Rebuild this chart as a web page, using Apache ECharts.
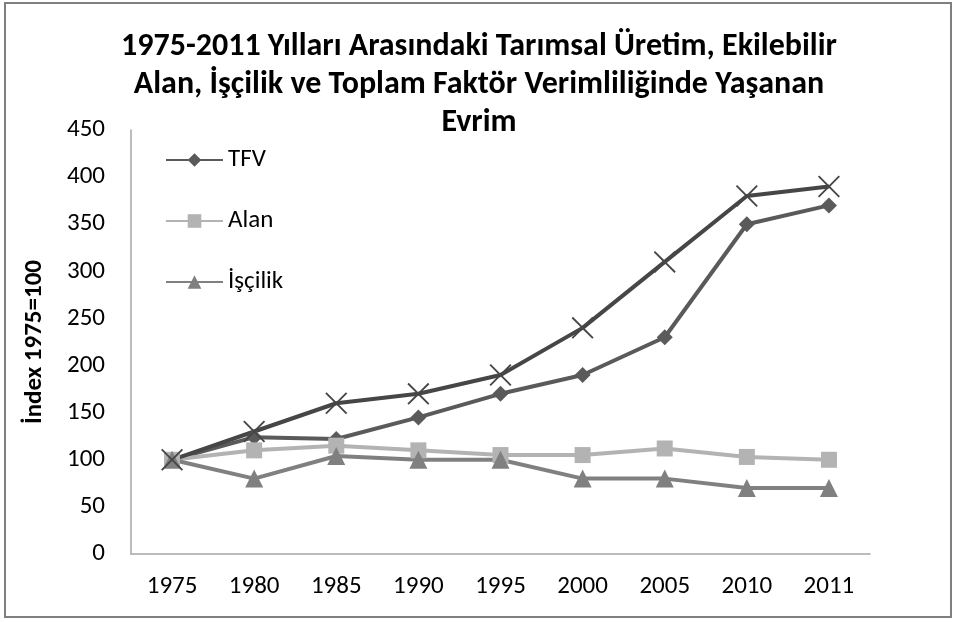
<!DOCTYPE html>
<html>
<head>
<meta charset="utf-8">
<script src="https://cdn.jsdelivr.net/npm/echarts@6/dist/echarts.min.js"></script>
<style>
  html, body { margin: 0; padding: 0; background: #fff; }
  #chart { width: 958px; height: 622px; }
</style>
</head>
<body>
<div id="chart"></div>
<script>
var FONT = 'Carlito, Calibri, "Liberation Sans Narrow", "Open Sans", sans-serif';

var years = ['1975', '1980', '1985', '1990', '1995', '2000', '2005', '2010', '2011'];
// Tarımsal üretim (X işaretli, lejantta yok)
var uretim = [100, 130, 160, 170, 190, 240, 310, 380, 390];
var tfv = [100, 124, 122, 145, 170, 190, 230, 350, 370];
var alan = [100, 110, 115, 110, 105, 105, 112, 103, 100];
var iscilik = [100, 80, 104, 100, 100, 80, 80, 70, 70];

var xSymbol = 'path://M0,6 L6,0 L50,44 L94,0 L100,6 L56,50 L100,94 L94,100 L50,56 L6,100 L0,94 L44,50 Z';

var chart = echarts.init(document.getElementById('chart'));

var option = {
  backgroundColor: '#fff',
  animation: false,
  textStyle: { fontFamily: FONT },
  title: {
    text: '1975-2011 Yılları Arasındaki Tarımsal Üretim, Ekilebilir\nAlan, İşçilik ve Toplam Faktör Verimliliğinde Yaşanan\nEvrim',
    left: 'center',
    top: 23,
    padding: [5, 0, 5, 12],
    textStyle: { fontFamily: FONT, fontSize: 32, fontWeight: 'bold', color: '#000', lineHeight: 38 }
  },
  legend: {
    data: ['TFV', 'Alan', 'İşçilik'],
    orient: 'vertical',
    left: 160,
    top: 140,
    itemWidth: 57,
    itemHeight: 17,
    itemGap: 31,
    textStyle: { fontFamily: FONT, fontSize: 25, color: '#000', lineHeight: 30 }
  },
  grid: { left: 131, right: 88, top: 130, bottom: 68 },
  xAxis: {
    type: 'category',
    data: years,
    boundaryGap: true,
    axisLine: { lineStyle: { color: '#a6a6a6', width: 1.5 } },
    axisTick: { show: false },
    axisLabel: { fontFamily: FONT, fontSize: 25, color: '#000', margin: 20 }
  },
  yAxis: {
    type: 'value',
    min: 0,
    max: 450,
    interval: 50,
    name: 'İndex 1975=100',
    nameLocation: 'middle',
    nameGap: 84,
    nameTextStyle: { fontFamily: FONT, fontSize: 25, fontWeight: 'bold', color: '#000' },
    axisLine: { show: true, lineStyle: { color: '#a6a6a6', width: 1.5 } },
    axisTick: { show: false },
    splitLine: { show: false },
    axisLabel: { fontFamily: FONT, fontSize: 25, color: '#000', margin: 26 }
  },
  series: [
    {
      name: 'TFV', type: 'line', data: tfv,
      symbol: 'diamond', symbolSize: 16,
      lineStyle: { color: '#5a5a5a', width: 4 },
      itemStyle: { color: '#5a5a5a' }
    },
    {
      name: 'Alan', type: 'line', data: alan,
      symbol: 'rect', symbolSize: 16,
      lineStyle: { color: '#b3b3b3', width: 4 },
      itemStyle: { color: '#b3b3b3' }
    },
    {
      name: 'İşçilik', type: 'line', data: iscilik,
      symbol: 'triangle', symbolSize: 18,
      lineStyle: { color: '#808080', width: 4 },
      itemStyle: { color: '#808080' }
    },
    {
      name: 'Üretim', type: 'line', data: uretim,
      symbol: xSymbol, symbolSize: 22,
      lineStyle: { color: '#464646', width: 4 },
      itemStyle: { color: '#464646' }
    }
  ],
  graphic: [{
    type: 'rect',
    shape: { x: 5, y: 3, width: 946, height: 614 },
    style: { fill: 'none', stroke: '#7f7f7f', lineWidth: 2 },
    silent: true,
    z: -1
  }]
};

chart.setOption(option);
</script>
</body>
</html>
